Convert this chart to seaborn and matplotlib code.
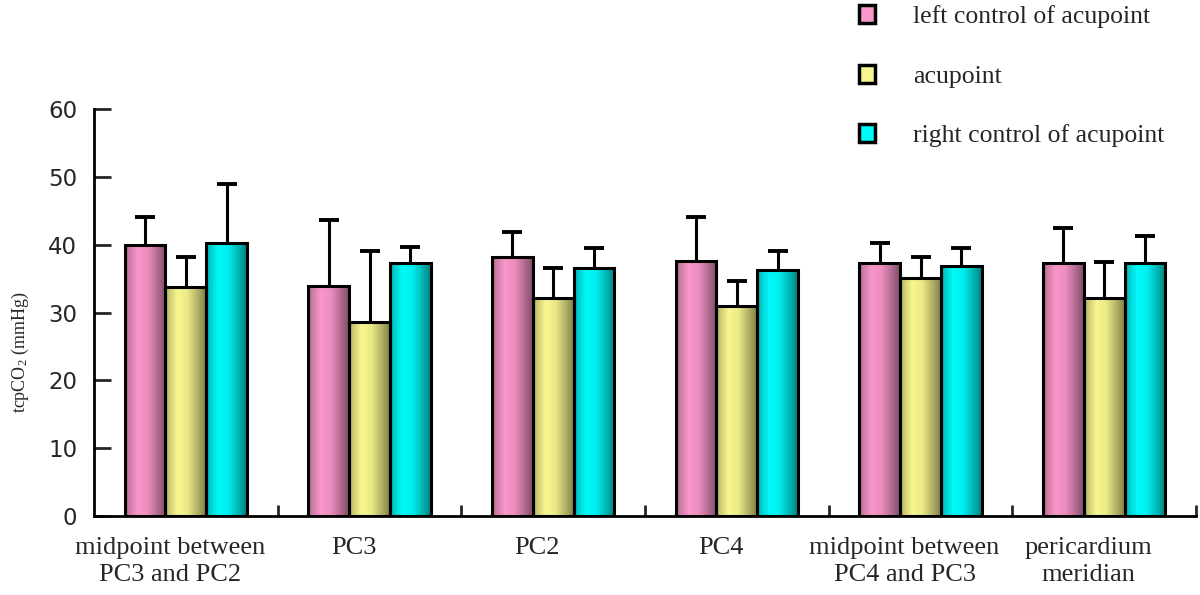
import numpy as np
import pandas as pd
import seaborn as sns
import matplotlib
matplotlib.use("Agg")
import matplotlib.pyplot as plt  # noqa: E402
from matplotlib.patches import Patch  # noqa: E402
from matplotlib.ticker import FixedLocator  # noqa: E402
import matplotlib.transforms as mtransforms  # noqa: E402

# --- data ------------------------------------------------------------------
sites = [
    "midpoint between\nPC3 and PC2",
    "PC3",
    "PC2",
    "PC4",
    "midpoint between\nPC4 and PC3",
    "pericardium\nmeridian",
]
groups = ["left control of acupoint", "acupoint", "right control of acupoint"]

left_mean = [39.9, 33.9, 38.2, 37.6, 37.3, 37.3]
left_sd = [4.2, 9.7, 3.6, 6.5, 2.9, 5.2]
acu_mean = [33.8, 28.6, 32.2, 30.9, 35.1, 32.1]
acu_sd = [4.4, 10.4, 4.3, 3.7, 3.1, 5.3]
right_mean = [40.2, 37.3, 36.5, 36.2, 36.9, 37.3]
right_sd = [8.7, 2.3, 3.0, 2.8, 2.6, 4.0]

yticks = [0, 10, 20, 30, 40, 50, 60]

colors = ["#F996CA", "#F8F68E", "#00FAFA"]

df = pd.DataFrame({
    "site": sites * 3,
    "group": [g for g in groups for _ in sites],
    "mean": left_mean + acu_mean + right_mean,
    "sd": left_sd + acu_sd + right_sd,
})

# --- plotting -----------------------------------------------------------------
sns.set_style("white")
plt.rcParams["font.family"] = ["Liberation Serif", "DejaVu Serif"]
plt.rcParams["mathtext.fontset"] = "custom"
plt.rcParams["mathtext.rm"] = "Liberation Serif"
plt.rcParams["mathtext.it"] = "Liberation Serif:italic"

fig = plt.figure(figsize=(12, 5.95), dpi=100)
ax = fig.add_axes([94 / 1200, 1 - 516 / 595, (1196 - 94) / 1200, (516 - 109) / 595])

sns.barplot(
    data=df, x="site", y="mean", hue="group", order=sites, hue_order=groups,
    palette=colors, width=0.667, errorbar=None, legend=False, ax=ax,
    edgecolor="black", linewidth=2.2, saturation=1,
)

# cylinder-like shading across each bar, clipped to the bar outline
pos = np.linspace(0, 1, 64)
shade = np.interp(pos, [0, 0.08, 0.3, 0.55, 0.8, 1.0], [0.62, 0.8, 1.0, 0.95, 0.72, 0.52])
sd_by_group = [left_sd, acu_sd, right_sd]
for container, base, sds in zip(ax.containers, colors, sd_by_group):
    rgb = np.array(matplotlib.colors.to_rgb(base))
    img = np.clip(shade[:, None] * rgb[None, :], 0, 1)[None, :, :]
    xs, hs = [], []
    for bar in container:
        x0, w, h = bar.get_x(), bar.get_width(), bar.get_height()
        im = ax.imshow(img, extent=(x0, x0 + w, 0, h), aspect="auto",
                       interpolation="bilinear", zorder=1.5)
        im.set_clip_path(bar)
        bar.set_facecolor("none")
        bar.set_zorder(2)
        xs.append(x0 + w / 2)
        hs.append(h)
    _, caps, _ = ax.errorbar(xs, hs, yerr=[np.zeros(len(sds)), sds], fmt="none",
                             ecolor="black", elinewidth=2.2, capsize=7,
                             capthick=2.8, zorder=1.8)
    caps[0].remove()  # only the upper whisker is drawn in the original

ax.set_xlim(-0.5, 5.5)
ax.set_ylim(0, 60)
ax.set_aspect("auto")

# axes styling
sns.despine(ax=ax)
for side in ("left", "bottom"):
    ax.spines[side].set_linewidth(2)
    ax.spines[side].set_color("black")

ax.set_yticks(yticks)
ax.set_yticklabels([str(t) for t in yticks], family="DejaVu Sans", fontsize=16.5)
ax.tick_params(axis="y", direction="in", length=12, width=2, pad=12, left=True)

ax.set_xticks(range(len(sites)))
ax.set_xticklabels(sites, fontsize=19, linespacing=1.3)
ax.tick_params(axis="x", which="major", length=0, pad=15)
ax.xaxis.set_minor_locator(FixedLocator(np.arange(0.5, 6, 1)))
ax.tick_params(axis="x", which="minor", direction="in", length=8, width=2, bottom=True)
offset = mtransforms.ScaledTranslation(-16 / 100, 0, fig.dpi_scale_trans)
for lab in ax.get_xticklabels():
    lab.set_transform(lab.get_transform() + offset)

ax.set_xlabel("")
ax.set_ylabel("")
fig.text(20 / 1200, 1 - 352 / 595, "tcpCO$_2$ (mmHg)", rotation=90,
         ha="center", va="center", fontsize=13)

handles = [Patch(facecolor=c, edgecolor="black", linewidth=2.5) for c in colors]
fig.legend(handles, groups, loc="upper left", bbox_to_anchor=(836 / 1200, 1.03),
           frameon=False, fontsize=18.5, handlelength=0.6, handleheight=0.7,
           handletextpad=1.5, labelspacing=1.42)

fig.savefig("out.png", dpi=100)
